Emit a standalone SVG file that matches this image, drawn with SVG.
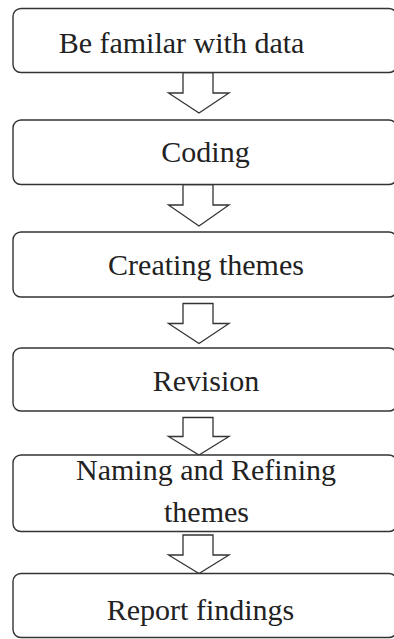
<svg xmlns="http://www.w3.org/2000/svg" width="394" height="639" viewBox="0 0 394 639">
<style>
.box{fill:#fff;stroke:#333;stroke-width:1.4}
.arr{fill:#fff;stroke:#333;stroke-width:1.3;stroke-linejoin:miter}
.t{font-family:"Liberation Serif","Times New Roman",serif;font-size:30px;fill:#222;text-anchor:middle}
</style>
<rect width="394" height="639" fill="#fff"/>
<g id="connectors">
<polygon class="arr" points="183,72.5 213,72.5 213,93 229,93 199,113 168.5,93 183,93"/>
<polygon class="arr" points="183,184.5 213,184.5 213,205 229,205 199,226 168.5,205 183,205"/>
<polygon class="arr" points="183,303.5 213,303.5 213,323.5 229,323.5 199,343.5 168.5,323.5 183,323.5"/>
<polygon class="arr" points="183,417.5 213,417.5 213,436.5 229,436.5 199,455 168.5,436.5 183,436.5"/>
<polygon class="arr" points="183,535 213,535 213,555 229,555 199,573.5 168.5,555 183,555"/>
</g>
<g id="n1"><rect class="box" x="13" y="8.5" width="384" height="64" rx="8"/><text class="t" x="181.5" y="53">Be familar with data</text></g>
<g id="n2"><rect class="box" x="13" y="120" width="384" height="64.5" rx="8"/><text class="t" x="205.5" y="162">Coding</text></g>
<g id="n3"><rect class="box" x="13" y="232" width="384" height="65" rx="8"/><text class="t" x="206" y="275">Creating themes</text></g>
<g id="n4"><rect class="box" x="13" y="348" width="384" height="63" rx="8"/><text class="t" x="206" y="391">Revision</text></g>
<g id="n5"><rect class="box" x="13" y="455" width="384" height="76.5" rx="8"/><text class="t" x="206" y="480">Naming and Refining</text><text class="t" x="206.5" y="522">themes</text></g>
<g id="n6"><rect class="box" x="13" y="573.5" width="384" height="64" rx="8"/><text class="t" x="200.5" y="620">Report findings</text></g>
</svg>
